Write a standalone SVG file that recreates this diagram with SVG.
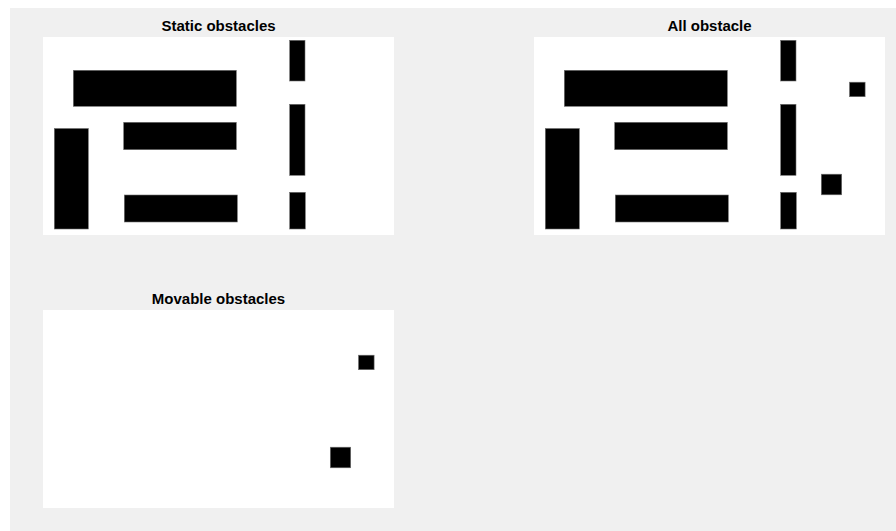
<svg xmlns="http://www.w3.org/2000/svg" width="896" height="531" viewBox="0 0 896 531">
<style>
.bg{fill:#f0f0f0}
.panel{fill:#ffffff}
.ob{fill:#000000;stroke:#6e6e6e;stroke-width:0.6}
.title{font-family:"Liberation Sans",Arial,sans-serif;font-size:15px;font-weight:bold;fill:#000;text-anchor:middle}
</style>
<defs>
<g id="static">
<rect class="ob" x="30.3" y="33.3" width="163" height="36"/>
<rect class="ob" x="80.7" y="85.3" width="112.6" height="27.4"/>
<rect class="ob" x="11.3" y="91.5" width="34" height="100.5"/>
<rect class="ob" x="81.3" y="158" width="113" height="27"/>
<rect class="ob" x="246.7" y="3.3" width="15.3" height="40.7"/>
<rect class="ob" x="246.7" y="67.3" width="15.3" height="71"/>
<rect class="ob" x="246.7" y="155.3" width="15.6" height="36.7"/>
</g>
<g id="movable">
<rect class="ob" x="315.5" y="45.2" width="15.6" height="14.5"/>
<rect class="ob" x="287.3" y="137.2" width="20.4" height="20.6"/>
</g>
</defs>
<rect class="bg" x="10" y="8" width="886" height="523"/>
<g id="static-obstacles">
<text class="title" x="218.5" y="30.5">Static obstacles</text>
<rect class="panel" x="43" y="37" width="351" height="198"/>
<use href="#static" x="43" y="37"/>
</g>
<g id="all-obstacle">
<text class="title" x="709.5" y="30.5">All obstacle</text>
<rect class="panel" x="534" y="37" width="351" height="198"/>
<use href="#static" x="534" y="37"/>
<use href="#movable" x="534" y="37"/>
</g>
<g id="movable-obstacles">
<text class="title" x="218.5" y="303.5">Movable obstacles</text>
<rect class="panel" x="43" y="310" width="351" height="198"/>
<use href="#movable" x="43" y="310"/>
</g>
<g id="connectors"/>
</svg>
